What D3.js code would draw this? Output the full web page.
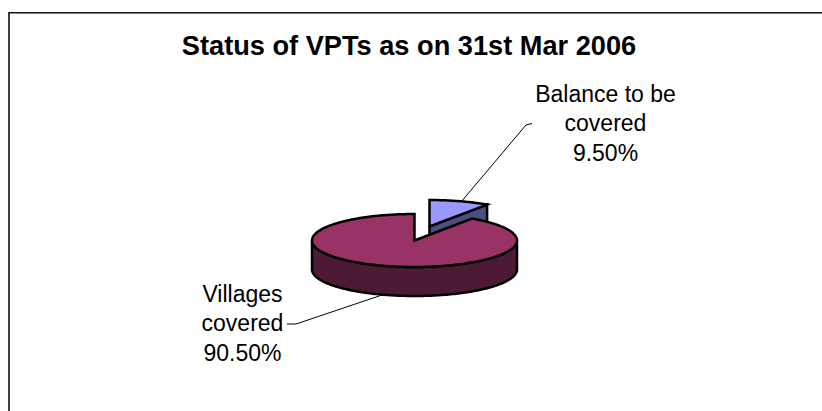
<!DOCTYPE html>
<html>
<head>
<meta charset="utf-8">
<script src="https://cdn.jsdelivr.net/npm/d3@7"></script>
<style>
  html, body { margin: 0; padding: 0; background: #fff; }
  svg { display: block; }
  text { font-family: "Liberation Sans", Arial, sans-serif; fill: #000; }
</style>
</head>
<body>
<svg id="chart" width="822" height="411"></svg>
<script>
//values
var chartTitle = 'Status of VPTs as on 31st Mar 2006'
var categories = ['Balance to be covered', 'Villages covered']
var shares = [9.5, 90.5]
var shareLabels = ['9.50%', '90.50%']
var topColors = ['#9999ff', '#993366']
var sideColors = ['#4d4d80', '#4d1a33']

var svg = d3.select('#chart')

//frame is cut by the window on the right and bottom
svg.append('path')
  .attr('d', 'M9 411V12.8H822')
  .attr('fill', 'none')
  .attr('stroke', '#111')
  .attr('stroke-width', 1.6)

svg.append('text')
  .attr('x', 409)
  .attr('y', 55)
  .attr('text-anchor', 'middle')
  .attr('font-size', 27.2)
  .attr('font-weight', 'bold')
  .text(chartTitle)

//tilted pie: circle squashed to an ellipse, then extruded downward
var cx = 414.5
var cy = 240.5
var rx = 102.5
var ry = 26.5
var depth = 29
var explode = [{ dx: 15, dy: -14 }, { dx: 0, dy: 0 }]

var pie = d3.pie().sort(null).value(function(d) { return d })
var slices = pie(shares)

function project(angle, r) {
  return [rx * r * Math.sin(angle), -ry * r * Math.cos(angle)]
}

function arcPoints(a0, a1) {
  var n = Math.max(2, Math.ceil(Math.abs(a1 - a0) / 0.02))
  return d3.range(n + 1).map(function(i) {
    return project(a0 + ((a1 - a0) * i) / n, 1)
  })
}

var line = d3.line()

function topFace(d) {
  return line([[0, 0]].concat(arcPoints(d.startAngle, d.endAngle))) + 'Z'
}

//outer wall, front half of the ellipse only
function outerWall(d) {
  var a0 = Math.max(d.startAngle, Math.PI / 2)
  var a1 = Math.min(d.endAngle, (3 * Math.PI) / 2)
  if (a1 <= a0) return null
  var upper = arcPoints(a0, a1)
  var lower = upper.map(function(p) { return [p[0], p[1] + depth] }).reverse()
  return line(upper.concat(lower)) + 'Z'
}

//flat cut face running from the centre to the rim
function cutFace(angle) {
  var p = project(angle, 1)
  return line([[0, 0], p, [p[0], p[1] + depth], [0, depth]]) + 'Z'
}

slices.forEach(function(d, i) {
  var g = svg.append('g')
    .attr('transform', 'translate(' + (cx + explode[i].dx) + ',' + (cy + explode[i].dy) + ')')
    .attr('stroke', '#000')
    .attr('stroke-width', 2.5)
    .attr('stroke-linejoin', 'miter')

  if (i === 0) {
    g.append('path').attr('d', cutFace(d.endAngle)).attr('fill', sideColors[i])
  }
  var wall = outerWall(d)
  if (wall) g.append('path').attr('d', wall).attr('fill', sideColors[i])
  g.append('path').attr('d', topFace(d)).attr('fill', topColors[i])
})

//leader lines, each with a short elbow at the label end
var leaders = [
  [[461, 202], [526, 125], [532, 123.5]],
  [[382, 295], [296, 324], [287, 324]]
]
leaders.forEach(function(pts) {
  svg.append('path')
    .attr('d', line(pts))
    .attr('fill', 'none')
    .attr('stroke', '#000')
    .attr('stroke-width', 1)
})

//data labels
var labelLines = [
  ['Balance to be', 'covered', shareLabels[0]],
  ['Villages', 'covered', shareLabels[1]]
]
var labelPos = [{ x: 605.5, y: 101.5 }, { x: 242.5, y: 301.5 }]
labelLines.forEach(function(rows, i) {
  var t = svg.append('text')
    .attr('text-anchor', 'middle')
    .attr('font-size', 23)
  rows.forEach(function(row, j) {
    t.append('tspan')
      .attr('x', labelPos[i].x)
      .attr('y', labelPos[i].y + j * 29.7)
      .text(row)
  })
})
</script>
</body>
</html>
